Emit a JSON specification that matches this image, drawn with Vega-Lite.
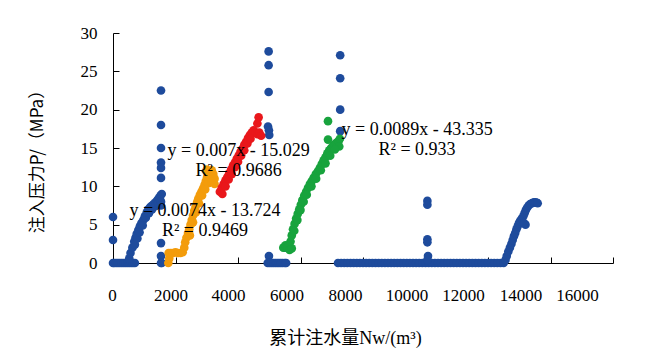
{
  "$schema": "https://vega.github.io/schema/vega-lite/v6.json",
  "width": 500,
  "height": 230,
  "autosize": {"type": "none"},
  "padding": {"left": 113, "top": 33, "right": 38, "bottom": 100},
  "background": "white",
  "config": {
    "view": {"stroke": null},
    "axis": {"labelOverlap": false, "grid": false, "domainColor": "#000000", "tickColor": "#000000", "tickSize": -6, "labelFont": "Liberation Serif", "labelFontSize": 17, "labelColor": "#000000", "labelFlush": false}
  },
  "datasets": {
    "pts": [
      {"s":"b","x":0,"y":6.0},{"s":"b","x":0,"y":3.0},{"s":"b","x":0,"y":0},{"s":"b","x":40,"y":0},{"s":"b","x":100,"y":0},{"s":"b","x":160,"y":0},{"s":"b","x":220,"y":0},{"s":"b","x":280,"y":0},{"s":"b","x":340,"y":0},{"s":"b","x":400,"y":0},{"s":"b","x":460,"y":0},{"s":"b","x":520,"y":0},{"s":"b","x":580,"y":0},{"s":"b","x":640,"y":0},{"s":"b","x":700,"y":0},
      {"s":"b","x":520,"y":0.6},{"s":"b","x":560,"y":1.3},{"s":"b","x":620,"y":2.0},{"s":"b","x":680,"y":2.8},{"s":"b","x":720,"y":3.3},{"s":"b","x":760,"y":3.8},{"s":"b","x":810,"y":4.3},{"s":"b","x":860,"y":4.8},{"s":"b","x":910,"y":5.2},{"s":"b","x":970,"y":5.6},{"s":"b","x":1020,"y":6.1},{"s":"b","x":1080,"y":6.6},{"s":"b","x":1130,"y":7.0},{"s":"b","x":1190,"y":7.3},{"s":"b","x":1250,"y":7.5},{"s":"b","x":1300,"y":7.7},{"s":"b","x":1360,"y":7.9},{"s":"b","x":1420,"y":8.2},{"s":"b","x":1470,"y":8.5},{"s":"b","x":1520,"y":8.8},{"s":"b","x":1560,"y":9.0},
      {"s":"b","x":700,"y":2.4},{"s":"b","x":780,"y":3.2},{"s":"b","x":850,"y":4.0},{"s":"b","x":950,"y":4.9},{"s":"b","x":1050,"y":5.9},{"s":"b","x":1150,"y":6.5},{"s":"b","x":1250,"y":7.0},{"s":"b","x":1350,"y":7.4},{"s":"b","x":1450,"y":7.8},{"s":"b","x":1500,"y":8.3},
      {"s":"b","x":1536,"y":22.5},{"s":"b","x":1536,"y":18.0},{"s":"b","x":1536,"y":15.0},{"s":"b","x":1536,"y":13.1},{"s":"b","x":1536,"y":12.4},{"s":"b","x":1536,"y":11.1},{"s":"b","x":1536,"y":8.0},{"s":"b","x":1536,"y":7.5},{"s":"b","x":1536,"y":2.6},{"s":"b","x":1536,"y":0.9},{"s":"b","x":1536,"y":0},{"s":"b","x":1560,"y":0},
      {"s":"b","x":4980,"y":27.6},{"s":"b","x":4980,"y":25.8},{"s":"b","x":4980,"y":22.3},{"s":"b","x":4960,"y":17.8},{"s":"b","x":4990,"y":17.3},{"s":"b","x":5000,"y":16.7},{"s":"b","x":4990,"y":0.9},{"s":"b","x":4950,"y":0},{"s":"b","x":5010,"y":0},{"s":"b","x":5070,"y":0},{"s":"b","x":5130,"y":0},{"s":"b","x":5190,"y":0},{"s":"b","x":5250,"y":0},{"s":"b","x":5310,"y":0},{"s":"b","x":5370,"y":0},{"s":"b","x":5430,"y":0},{"s":"b","x":5500,"y":0},{"s":"b","x":5540,"y":0},{"s":"b","x":5500,"y":2.0},
      {"s":"b","x":7270,"y":27.1},{"s":"b","x":7270,"y":24.1},{"s":"b","x":7270,"y":20.0},{"s":"b","x":7270,"y":17.2},
      {"s":"b","x":7200,"y":0},{"s":"b","x":7300,"y":0},{"s":"b","x":7400,"y":0},{"s":"b","x":7500,"y":0},{"s":"b","x":7600,"y":0},{"s":"b","x":7700,"y":0},{"s":"b","x":7800,"y":0},{"s":"b","x":7900,"y":0},{"s":"b","x":8000,"y":0},{"s":"b","x":8100,"y":0},{"s":"b","x":8200,"y":0},{"s":"b","x":8300,"y":0},{"s":"b","x":8400,"y":0},{"s":"b","x":8500,"y":0},{"s":"b","x":8600,"y":0},{"s":"b","x":8700,"y":0},{"s":"b","x":8800,"y":0},{"s":"b","x":8900,"y":0},{"s":"b","x":9000,"y":0},{"s":"b","x":9100,"y":0},{"s":"b","x":9200,"y":0},{"s":"b","x":9300,"y":0},{"s":"b","x":9400,"y":0},{"s":"b","x":9500,"y":0},{"s":"b","x":9600,"y":0},{"s":"b","x":9700,"y":0},{"s":"b","x":9800,"y":0},{"s":"b","x":9900,"y":0},{"s":"b","x":10000,"y":0},{"s":"b","x":10100,"y":0},{"s":"b","x":10200,"y":0},{"s":"b","x":10300,"y":0},{"s":"b","x":10400,"y":0},{"s":"b","x":10500,"y":0},{"s":"b","x":10600,"y":0},{"s":"b","x":10700,"y":0},{"s":"b","x":10800,"y":0},{"s":"b","x":10900,"y":0},{"s":"b","x":11000,"y":0},{"s":"b","x":11100,"y":0},{"s":"b","x":11200,"y":0},{"s":"b","x":11300,"y":0},{"s":"b","x":11400,"y":0},{"s":"b","x":11500,"y":0},{"s":"b","x":11600,"y":0},{"s":"b","x":11700,"y":0},{"s":"b","x":11800,"y":0},{"s":"b","x":11900,"y":0},{"s":"b","x":12000,"y":0},{"s":"b","x":12100,"y":0},{"s":"b","x":12200,"y":0},{"s":"b","x":12300,"y":0},{"s":"b","x":12400,"y":0},{"s":"b","x":12500,"y":0},
      {"s":"b","x":10060,"y":8.1},{"s":"b","x":10060,"y":7.6},{"s":"b","x":10060,"y":3.1},{"s":"b","x":10060,"y":2.7},{"s":"b","x":10080,"y":0.9},{"s":"b","x":10060,"y":0.4},
      {"s":"b","x":12560,"y":0.4},{"s":"b","x":12600,"y":0.9},{"s":"b","x":12650,"y":1.5},{"s":"b","x":12700,"y":2.0},{"s":"b","x":12750,"y":2.5},{"s":"b","x":12790,"y":3.0},{"s":"b","x":12830,"y":3.5},{"s":"b","x":12870,"y":3.9},{"s":"b","x":12910,"y":4.4},{"s":"b","x":12950,"y":4.8},{"s":"b","x":12990,"y":5.2},{"s":"b","x":13030,"y":5.5},{"s":"b","x":13080,"y":5.8},{"s":"b","x":13130,"y":6.1},{"s":"b","x":13170,"y":6.5},{"s":"b","x":13210,"y":6.9},{"s":"b","x":13250,"y":7.2},{"s":"b","x":13300,"y":7.5},{"s":"b","x":13350,"y":7.7},{"s":"b","x":13410,"y":7.8},{"s":"b","x":13470,"y":7.9},{"s":"b","x":13530,"y":7.9},{"s":"b","x":13590,"y":7.8},{"s":"b","x":13200,"y":5.0},{"s":"b","x":13150,"y":5.2},
      {"s":"o","x":1770,"y":0.0},{"s":"o","x":1800,"y":0.6},{"s":"o","x":1780,"y":1.3},{"s":"o","x":1850,"y":1.3},{"s":"o","x":1920,"y":1.3},{"s":"o","x":2000,"y":1.4},{"s":"o","x":2080,"y":1.3},{"s":"o","x":2160,"y":1.3},{"s":"o","x":2230,"y":1.4},{"s":"o","x":2280,"y":2.0},{"s":"o","x":2310,"y":2.7},{"s":"o","x":2350,"y":3.3},{"s":"o","x":2400,"y":3.9},{"s":"o","x":2440,"y":4.4},{"s":"o","x":2480,"y":5.0},{"s":"o","x":2520,"y":5.6},{"s":"o","x":2560,"y":6.2},{"s":"o","x":2600,"y":6.8},{"s":"o","x":2640,"y":7.3},{"s":"o","x":2690,"y":7.9},{"s":"o","x":2730,"y":8.4},{"s":"o","x":2780,"y":8.9},{"s":"o","x":2830,"y":9.3},{"s":"o","x":2880,"y":9.7},{"s":"o","x":2930,"y":10.2},{"s":"o","x":2970,"y":10.7},{"s":"o","x":3010,"y":11.2},{"s":"o","x":3060,"y":11.5},{"s":"o","x":3110,"y":11.9},{"s":"o","x":3160,"y":12.1},{"s":"o","x":3210,"y":11.6},{"s":"o","x":3250,"y":11.0},{"s":"o","x":3000,"y":12.2},
      {"s":"o","x":2460,"y":3.6},{"s":"o","x":2560,"y":5.3},{"s":"o","x":2650,"y":6.6},{"s":"o","x":2750,"y":7.8},{"s":"o","x":2850,"y":8.8},{"s":"o","x":2950,"y":9.6},{"s":"o","x":3050,"y":10.4},{"s":"o","x":3150,"y":10.6},{"s":"o","x":3250,"y":10.3},
      {"s":"r","x":3420,"y":9.3},{"s":"r","x":3480,"y":9.8},{"s":"r","x":3540,"y":10.3},{"s":"r","x":3600,"y":10.8},{"s":"r","x":3660,"y":11.2},{"s":"r","x":3720,"y":11.7},{"s":"r","x":3780,"y":12.2},{"s":"r","x":3840,"y":12.7},{"s":"r","x":3900,"y":13.1},{"s":"r","x":3960,"y":13.6},{"s":"r","x":4020,"y":14.0},{"s":"r","x":4080,"y":14.5},{"s":"r","x":4140,"y":14.9},{"s":"r","x":4200,"y":15.4},{"s":"r","x":4260,"y":15.8},{"s":"r","x":4320,"y":16.3},{"s":"r","x":4380,"y":16.7},{"s":"r","x":4440,"y":17.0},{"s":"r","x":4500,"y":17.3},{"s":"r","x":4560,"y":17.0},{"s":"r","x":4620,"y":16.8},{"s":"r","x":4680,"y":17.0},{"s":"r","x":4740,"y":16.6},{"s":"r","x":4620,"y":18.2},{"s":"r","x":4660,"y":19.0},
      {"s":"r","x":3500,"y":9.0},{"s":"r","x":3600,"y":10.0},{"s":"r","x":3700,"y":10.9},{"s":"r","x":3800,"y":11.6},{"s":"r","x":3900,"y":12.5},{"s":"r","x":4000,"y":13.2},{"s":"r","x":4100,"y":14.0},{"s":"r","x":4200,"y":14.7},{"s":"r","x":4300,"y":15.6},{"s":"r","x":4400,"y":16.2},
      {"s":"g","x":5450,"y":2.0},{"s":"g","x":5520,"y":2.3},{"s":"g","x":5580,"y":2.0},{"s":"g","x":5650,"y":1.7},{"s":"g","x":5720,"y":1.9},{"s":"g","x":5680,"y":2.8},{"s":"g","x":5720,"y":3.6},{"s":"g","x":5760,"y":4.4},{"s":"g","x":5810,"y":5.1},{"s":"g","x":5860,"y":5.8},{"s":"g","x":5910,"y":6.4},{"s":"g","x":5960,"y":7.0},{"s":"g","x":6010,"y":7.6},{"s":"g","x":6060,"y":8.2},{"s":"g","x":6120,"y":8.8},{"s":"g","x":6180,"y":9.3},{"s":"g","x":6240,"y":9.8},{"s":"g","x":6300,"y":10.3},{"s":"g","x":6360,"y":10.7},{"s":"g","x":6420,"y":11.1},{"s":"g","x":6490,"y":11.6},{"s":"g","x":6560,"y":12.0},{"s":"g","x":6620,"y":12.4},{"s":"g","x":6680,"y":12.9},{"s":"g","x":6740,"y":13.4},{"s":"g","x":6800,"y":13.8},{"s":"g","x":6860,"y":14.3},{"s":"g","x":6920,"y":14.7},{"s":"g","x":6980,"y":15.0},{"s":"g","x":7040,"y":15.3},{"s":"g","x":7100,"y":15.5},{"s":"g","x":7160,"y":15.7},{"s":"g","x":7220,"y":15.9},{"s":"g","x":7260,"y":16.2},{"s":"g","x":7240,"y":15.2},{"s":"g","x":6880,"y":18.5},{"s":"g","x":6880,"y":16.1},
      {"s":"g","x":5800,"y":4.2},{"s":"g","x":5900,"y":5.6},{"s":"g","x":6000,"y":6.9},{"s":"g","x":6100,"y":8.0},{"s":"g","x":6200,"y":8.9},{"s":"g","x":6350,"y":10.0},{"s":"g","x":6500,"y":11.0},{"s":"g","x":6650,"y":12.1},{"s":"g","x":6800,"y":13.0},{"s":"g","x":6950,"y":14.0},{"s":"g","x":7100,"y":14.8}
    ],
    "notes": [
      {"x":4020,"y":14.56,"t":"y = 0.007x - 15.029"},
      {"x":4020,"y":11.95,"t":"R² = 0.9686"},
      {"x":2944,"y":6.73,"t":"y = 0.0074x - 13.724"},
      {"x":2944,"y":4.12,"t":"R² = 0.9469"},
      {"x":9730,"y":17.39,"t":"y = 0.0089x - 43.335"},
      {"x":9730,"y":14.78,"t":"R² = 0.933"}
    ]
  },
  "encoding": {
    "x": {
      "field": "x", "type": "quantitative",
      "scale": {"domain": [0, 16000], "nice": false},
      "axis": {
        "values": [0,2000,4000,6000,8000,10000,12000,14000,16000],
        "format": "d",
        "labelPadding": 30,
        "labelOverlap": false,
        "labelOffset": {"condition": [
          {"test": "datum.value == 2000", "value": -5},
          {"test": "datum.value == 4000", "value": -10},
          {"test": "datum.value == 6000", "value": -14},
          {"test": "datum.value == 8000", "value": -18},
          {"test": "datum.value == 10000", "value": -19},
          {"test": "datum.value == 12000", "value": -25},
          {"test": "datum.value == 14000", "value": -30},
          {"test": "datum.value == 16000", "value": -36}
        ], "value": -1},
        "title": "累计注水量Nw/(m³)",
        "titleFont": "Liberation Serif, Noto Sans CJK SC", "titleFontSize": 18, "titleFontWeight": "normal", "titleColor": "#000000",
        "titleX": 232, "titleY": 75, "titleBaseline": "middle", "titleAlign": "center"
      }
    },
    "y": {
      "field": "y", "type": "quantitative",
      "scale": {"domain": [0, 30], "nice": false},
      "axis": {
        "values": [0,5,10,15,20,25,30],
        "format": "d",
        "labelOverlap": false,
        "labelPadding": 22,
        "title": "注入压力P/（MPa）",
        "titleFont": "Noto Sans CJK SC", "titleFontSize": 17, "titleFontWeight": "normal", "titleColor": "#000000",
        "titleX": -76, "titleY": 124, "titleAngle": -90, "titleBaseline": "middle", "titleAlign": "center"
      }
    }
  },
  "layer": [
    {
      "data": {"name": "pts"},
      "mark": {"type": "point", "shape": "circle", "filled": true, "opacity": 1, "size": 75},
      "encoding": {
        "color": {
          "field": "s", "type": "nominal",
          "scale": {"domain": ["b","o","r","g"], "range": ["#1E4B9C","#F39C0B","#E9171B","#18A33D"]},
          "legend": null
        }
      }
    },
    {
      "data": {"name": "notes"},
      "mark": {"type": "text", "font": "Liberation Serif", "fontSize": 18, "color": "#000000", "align": "center", "baseline": "middle"},
      "encoding": {
        "text": {"field": "t"}
      }
    }
  ]
}
